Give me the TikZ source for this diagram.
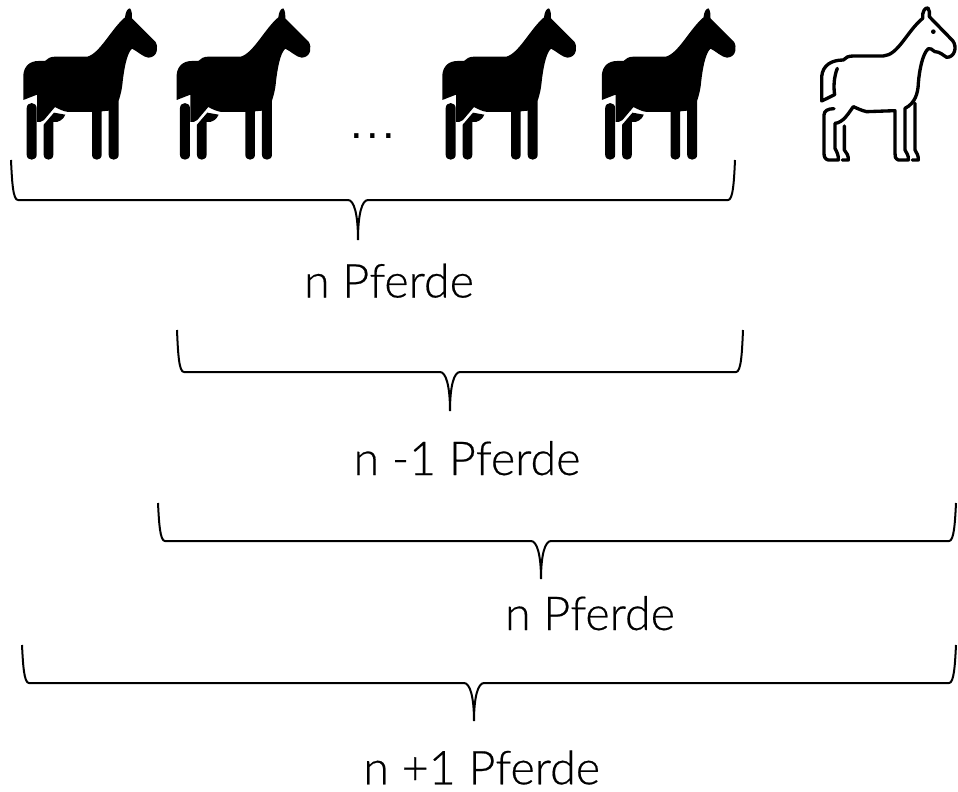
\documentclass[tikz,border=0pt]{standalone}
\usepackage{fontspec}
\setmainfont{Lato Light}[FakeBold=0.4]
\newfontfamily\punktfont{Liberation Sans}
\usetikzlibrary{positioning}

\tikzset{
  klammer/.style={draw=black,line width=1.5pt},
  pferdtext/.style={font=\fontsize{35}{40}\selectfont,inner sep=0pt,anchor=base},
  schwarz/.pic={
    \begin{scope}[x=0.25pt,y=-0.25pt]
      \fill[black] (70,300) -- (70,225) .. controls (72,198) and (90,183) .. (115,183) -- (135,183)
        .. controls (142,176) and (150,170) .. (165,170) -- (262,170)
        .. controls (300,160) and (335,85) .. (375,52)
        .. controls (377,35) and (382,26) .. (390,25) .. controls (396,32) and (396,45) .. (396,55)
        -- (466,125) .. controls (476,140) and (474,172) .. (445,173)
        .. controls (430,172) and (410,152) .. (396,146)
        .. controls (380,160) and (372,210) .. (368,245) .. controls (366,270) and (360,290) .. (356,302)
        -- (356,464) .. controls (356,484) and (326,484) .. (326,464) -- (326,332) -- (305,334)
        -- (305,464) .. controls (305,484) and (276,484) .. (276,464) -- (276,336) -- (205,336)
        .. controls (190,334) and (178,328) .. (165,321) -- (132,360) .. controls (125,367) and (118,366) .. (111,366)
        -- (111,284) -- cycle;
      \fill[black] (80,325) .. controls (80,304) and (110,304) .. (110,325) -- (110,464)
        .. controls (110,484) and (80,484) .. (80,464) -- cycle;
      \fill[black] (131,374) -- (162,338) -- (196,344) .. controls (190,358) and (178,368) .. (160,366)
        -- (160,464) .. controls (160,484) and (131,484) .. (131,464) -- cycle;
    \end{scope}
  },
  umriss/.pic={
    \begin{scope}[x=0.25pt,y=-0.25pt,line width=2.5pt,line join=round,line cap=round]
      \draw (112,205) .. controls (102,230) and (100,260) .. (104,284) -- (65,303) -- (65,230)
        .. controls (68,195) and (95,180) .. (130,180) .. controls (137,172) and (145,168) .. (160,168) -- (250,168)
        .. controls (295,165) and (320,95) .. (368,55) .. controls (366,35) and (375,22) .. (384,24)
        .. controls (390,30) and (388,40) .. (388,50) -- (458,122) .. controls (472,140) and (465,172) .. (440,172)
        .. controls (428,165) and (420,155) .. (405,155) .. controls (395,150) and (392,142) .. (385,146)
        .. controls (368,160) and (358,210) .. (355,250) .. controls (354,280) and (345,310) .. (315,325)
        -- (315,450) .. controls (320,460) and (326,465) .. (325,480) -- (295,480)
        .. controls (285,475) and (285,470) .. (285,460) -- (285,332) -- (200,335)
        .. controls (185,332) and (172,325) .. (160,320) .. controls (145,340) and (130,368) .. (105,370)
        -- (105,445) .. controls (110,455) and (116,465) .. (115,480) -- (85,480)
        .. controls (75,478) and (72,470) .. (72,460) -- (72,345) .. controls (72,332) and (85,326) .. (102,326);
      \draw (133,378) -- (133,450) .. controls (140,458) and (146,468) .. (145,480) -- (127,480);
      \draw (345,310) -- (345,450) .. controls (350,458) and (356,468) .. (355,480) -- (337,480);
      \fill (400,95) circle (7);
    \end{scope}
  }
}

% links, oben, mitte, rechts, steg, spitze
\newcommand{\klammerzug}[7]{
  \coordinate (#1l) at (#2,#3);
  \coordinate (#1s) at (#4,#7);
  \coordinate (#1r) at (#5,#3);
  \draw[klammer] (#1l) .. controls (#2+1,#6-18) and (#2+2,#6) .. (#2+7,#6)
    -- (#4-10,#6) .. controls (#4-4,#6) and (#4,#6+14) .. (#1s)
    .. controls (#4,#6+14) and (#4+4,#6) .. (#4+10,#6)
    -- (#5-7,#6) .. controls (#5-2,#6) and (#5-1,#6-18) .. (#1r);
}

\begin{document}
\begin{tikzpicture}[x=0.75pt,y=-0.75pt]
  \useasboundingbox (0,0) rectangle (958,792);

  \pic (p1) at (0,0) {schwarz};
  \pic (p2) at (153.3,0) {schwarz};
  \pic (p3) at (419,0) {schwarz};
  \pic (p4) at (578.5,0) {schwarz};
  \pic (p5) at (800,0) {umriss};
  \node[font=\punktfont\fontsize{34}{40}\selectfont,inner sep=0pt,anchor=base] (dots) at (372.5,138) {.\kern2.6pt.\kern2.6pt.};

  \klammerzug{a}{11}{160}{358}{735}{200}{240}
  \klammerzug{b}{177}{330}{450}{743}{372}{411}
  \klammerzug{c}{158}{503}{541}{956}{541}{579}
  \klammerzug{d}{22}{645}{474}{956}{683}{721}

  \node[pferdtext] (na) at (389,297.5) {n Pferde};
  \node[pferdtext] (nb) at (467,475) {n -1 Pferde};
  \node[pferdtext] (nc) at (590,630) {n Pferde};
  \node[pferdtext] (nd) at (481.7,784.3) {n +1 Pferde};
\end{tikzpicture}
\end{document}
